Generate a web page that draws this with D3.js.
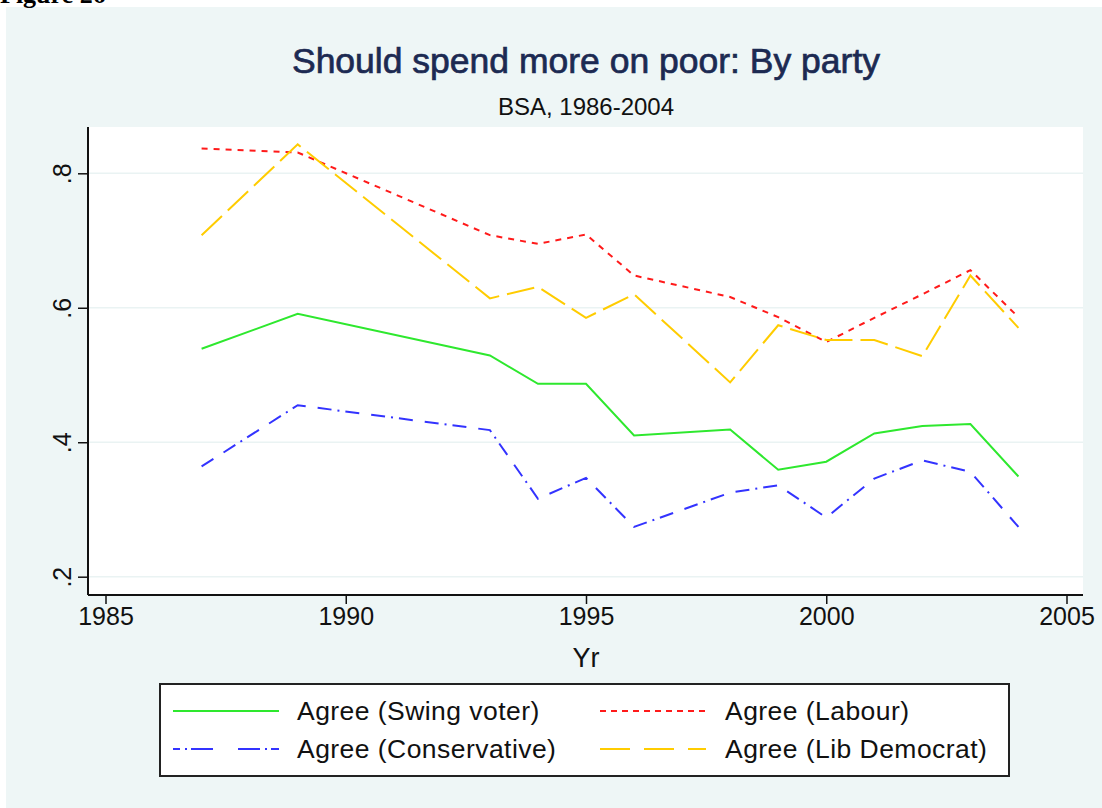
<!DOCTYPE html>
<html>
<head>
<meta charset="utf-8">
<script src="https://cdn.jsdelivr.net/npm/d3@7"></script>
<style>
  html, body { margin: 0; padding: 0; background: #fff; }
  svg text { font-family: "Liberation Sans", Arial, sans-serif; }
</style>
</head>
<body>
<svg id="canvas" width="1102" height="808"></svg>
<script>
// values
var years = [1987, 1989, 1993, 1994, 1995, 1996, 1998, 1999, 2000, 2001, 2002, 2003, 2004]
var swing = [0.539, 0.591, 0.529, 0.487, 0.487, 0.410, 0.419, 0.359, 0.371, 0.413, 0.424, 0.427, 0.349]
var labour = [0.837, 0.831, 0.708, 0.695, 0.709, 0.648, 0.616, 0.586, 0.549, 0.585, 0.620, 0.656, 0.586]
var conservative = [0.364, 0.455, 0.418, 0.316, 0.347, 0.274, 0.325, 0.336, 0.288, 0.346, 0.373, 0.356, 0.274]
var libdem = [0.708, 0.843, 0.614, 0.631, 0.585, 0.620, 0.489, 0.574, 0.552, 0.552, 0.528, 0.648, 0.570]

var xTicks = [1985, 1990, 1995, 2000, 2005]
var yTicks = [0.2, 0.4, 0.6, 0.8]

var seriesNames = ['Agree (Swing voter)', 'Agree (Labour)', 'Agree (Conservative)', 'Agree (Lib Democrat)']
var seriesValues = [swing, labour, conservative, libdem]
var seriesColors = ['#2ee82e', '#ff1a1a', '#3333ff', '#ffcc00']
var seriesDash = [null, '6,6', '14,12,14,6,2,6', '28,8']

var svg = d3.select('#canvas')

// outer graph region
svg.append('rect')
  .attr('x', 6).attr('y', 7)
  .attr('width', 1096).attr('height', 801)
  .attr('fill', '#eef6f6')

svg.append('text')
  .attr('x', 0).attr('y', 3)
  .style('font-family', '"Liberation Serif", "Times New Roman", serif')
  .attr('font-weight', 'bold')
  .attr('font-size', 26)
  .text('Figure 26')

var plot = {left: 88, right: 1083, top: 127, bottom: 595}

svg.append('rect')
  .attr('x', plot.left).attr('y', plot.top)
  .attr('width', plot.right - plot.left).attr('height', plot.bottom - plot.top)
  .attr('fill', '#fff')

var x = d3.scaleLinear().domain([1985, 2005]).range([105.5, 1066.5])
var y = d3.scaleLinear().domain([0.2, 0.8]).range([576.7, 173.3])

// gridlines
svg.append('g').selectAll('line')
  .data(yTicks)
  .enter()
  .append('line')
  .attr('x1', plot.left).attr('x2', plot.right)
  .attr('y1', d => y(d)).attr('y2', d => y(d))
  .attr('stroke', '#eaf3f3')
  .attr('stroke-width', 1.5)

// title
svg.append('text')
  .attr('x', 586).attr('y', 73)
  .attr('text-anchor', 'middle')
  .attr('font-size', 35.5)
  .attr('fill', '#1c2a52')
  .attr('stroke', '#1c2a52')
  .attr('stroke-width', 0.7)
  .text('Should spend more on poor: By party')

svg.append('text')
  .attr('x', 586).attr('y', 115)
  .attr('text-anchor', 'middle')
  .attr('font-size', 24)
  .attr('fill', '#111')
  .text('BSA, 1986-2004')

// axes
var xAxis = d3.axisBottom(x).tickValues(xTicks).tickFormat(d3.format('d')).tickSize(9).tickSizeOuter(0)
var gx = svg.append('g')
  .attr('transform', 'translate(0,' + plot.bottom + ')')
  .call(xAxis)
gx.select('.domain').attr('d', 'M' + plot.left + ',0H' + plot.right).attr('stroke', '#111').attr('stroke-width', 2)
gx.selectAll('.tick line').attr('stroke', '#111').attr('stroke-width', 1.5)
gx.selectAll('.tick text')
  .attr('font-size', 25).attr('fill', '#111')
  .attr('font-family', null)
  .attr('y', 12).attr('dy', '0.71em')

var yAxis = d3.axisLeft(y).tickValues(yTicks).tickFormat(d => d3.format('.1f')(d).replace(/^0/, '')).tickSize(10).tickSizeOuter(0)
var gy = svg.append('g')
  .attr('transform', 'translate(' + plot.left + ',0)')
  .call(yAxis)
gy.select('.domain').attr('d', 'M0,' + plot.top + 'V' + plot.bottom).attr('stroke', '#111').attr('stroke-width', 2)
gy.selectAll('.tick line').attr('stroke', '#111').attr('stroke-width', 1.5)
gy.selectAll('.tick text')
  .attr('font-size', 25).attr('fill', '#111')
  .attr('font-family', null)
  .attr('x', null).attr('dy', null)
  .attr('text-anchor', 'middle')
  .attr('transform', 'translate(-17,0) rotate(-90)')

svg.append('text')
  .attr('x', x(1995)).attr('y', 667)
  .attr('text-anchor', 'middle')
  .attr('font-size', 27)
  .attr('fill', '#111')
  .text('Yr')

// series lines
var line = d3.line()
  .x(d => x(d[0]))
  .y(d => y(d[1]))

svg.append('g').selectAll('path')
  .data(seriesValues)
  .enter()
  .append('path')
  .attr('d', function(vals) {
    return line(years.map((yr, i) => [yr, vals[i]]))
  })
  .attr('fill', 'none')
  .attr('stroke', (d, i) => seriesColors[i])
  .attr('stroke-width', 2)
  .attr('stroke-dasharray', (d, i) => seriesDash[i])

// legend
var legend = svg.append('g')
legend.append('rect')
  .attr('x', 160).attr('y', 684)
  .attr('width', 849).attr('height', 92)
  .attr('fill', '#fff')
  .attr('stroke', '#222')
  .attr('stroke-width', 2)

var legendPos = [
  {lx: 173, tx: 297, ly: 711},
  {lx: 600, tx: 725, ly: 711},
  {lx: 173, tx: 297, ly: 749},
  {lx: 600, tx: 725, ly: 749}
]
var legendDash = [null, '6,5', '7,5,2,4,22,25,22,5,2,4,13', '30,14']

var items = legend.selectAll('g.item')
  .data(seriesNames)
  .enter()
  .append('g')
  .attr('class', 'item')

items.append('line')
  .attr('x1', (d, i) => legendPos[i].lx)
  .attr('x2', (d, i) => legendPos[i].lx + 106)
  .attr('y1', (d, i) => legendPos[i].ly)
  .attr('y2', (d, i) => legendPos[i].ly)
  .attr('stroke', (d, i) => seriesColors[i])
  .attr('stroke-width', 2)
  .attr('stroke-dasharray', (d, i) => legendDash[i])

items.append('text')
  .attr('x', (d, i) => legendPos[i].tx)
  .attr('y', (d, i) => legendPos[i].ly + 9)
  .attr('font-size', 26.5)
  .attr('letter-spacing', 0.45)
  .attr('fill', '#111')
  .text(d => d)
</script>
</body>
</html>
